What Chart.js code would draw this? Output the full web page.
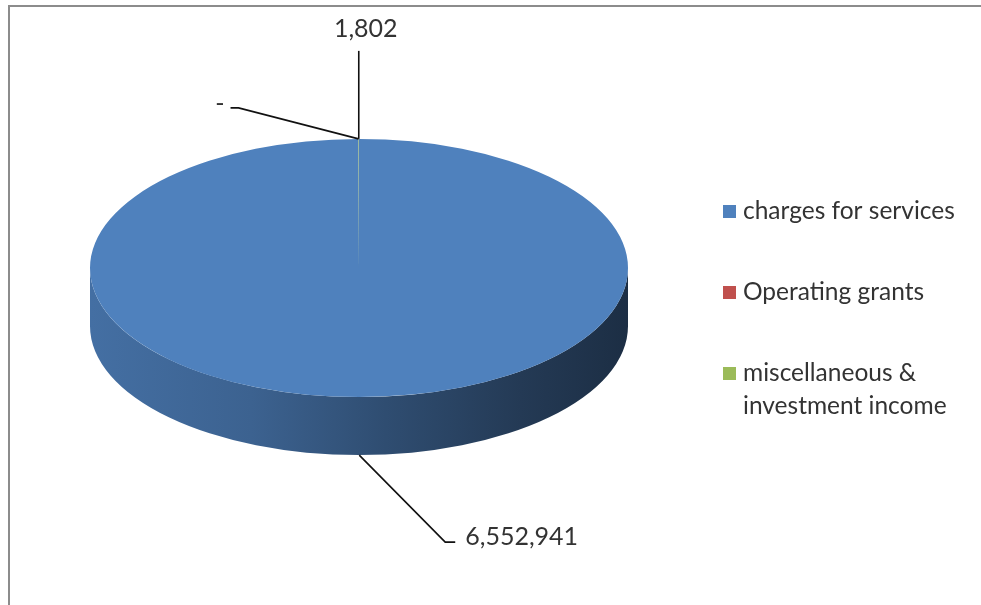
<!DOCTYPE html>
<html>
<head>
<meta charset="utf-8">
<script src="https://cdn.jsdelivr.net/npm/chart.js@4/dist/chart.umd.min.js"></script>
<style>
  html, body { margin: 0; padding: 0; background: #fff; overflow: hidden; }
  #moldura { position: absolute; left: 8px; top: 5px; width: 971px; height: 598px;
             border-top: 2px solid #8c8c8c; border-left: 2px solid #8c8c8c; }
  #grafico { position: absolute; left: 0; top: 0; }
</style>
</head>
<body>
<div id="moldura"></div>
<canvas id="grafico" width="981" height="605"></canvas>
<script>
// dados
const categorias = ['charges for services', 'Operating grants', 'miscellaneous & investment income'];
const valores = [6552941, 0, 1802];
const cores = ['#4f81bd', '#c0504d', '#9bbb59'];

// aparência do "3D"
const inclinacao = 0.48;   // achatamento vertical do disco
const espessura = 58;      // altura da lateral
const subida = 34;         // desloca o disco para cima
const fonteLegenda = '24.5px Lato, "Open Sans", sans-serif';
const fonteValor = '25px Lato, "Open Sans", sans-serif';
const corTexto = '#333';

// pontos das linhas-guia dos rótulos (relativos à âncora na borda do disco)
const guias = [
  { cotovelo: [86, 87], fim: [96, 87], texto: [106, 82], alinhar: 'left' },
  { cotovelo: [-120, -31], fim: [-128, -31], texto: [-134, -35], alinhar: 'right' },
  { cotovelo: [0, -88], fim: [0, -88], texto: [7, -110], alinhar: 'center' }
];

function escurecer(hex, f) {
  const n = parseInt(hex.slice(1), 16);
  const r = Math.round(((n >> 16) & 255) * f);
  const g = Math.round(((n >> 8) & 255) * f);
  const b = Math.round((n & 255) * f);
  return `rgb(${r},${g},${b})`;
}

function formatar(v) {
  return v === 0 ? '-' : v.toLocaleString('en-US');
}

function quebrarTexto(ctx, texto, largura) {
  const palavras = texto.split(' ');
  const linhas = [];
  let atual = '';
  palavras.forEach(p => {
    const teste = atual ? atual + ' ' + p : p;
    if (ctx.measureText(teste).width > largura && atual) {
      linhas.push(atual);
      atual = p;
    } else {
      atual = teste;
    }
  });
  if (atual) linhas.push(atual);
  return linhas;
}

const pizza3d = {
  id: 'pizza3d',
  beforeDatasetsDraw(chart) {
    const ctx = chart.ctx;
    const arcos = chart.getDatasetMeta(0).data;
    if (!arcos.length) return;
    const cx = arcos[0].x;
    const cy = arcos[0].y - subida;
    const rx = arcos[0].outerRadius;
    const ry = rx * inclinacao;

    // lateral visível (ângulos entre 0 e PI ficam na frente)
    arcos.forEach((arco, i) => {
      const grad = ctx.createLinearGradient(cx - rx, 0, cx + rx, 0);
      grad.addColorStop(0, escurecer(cores[i], 0.86));
      grad.addColorStop(0.3, escurecer(cores[i], 0.76));
      grad.addColorStop(0.55, escurecer(cores[i], 0.6));
      grad.addColorStop(0.8, escurecer(cores[i], 0.45));
      grad.addColorStop(1, escurecer(cores[i], 0.36));
      [-2 * Math.PI, 0, 2 * Math.PI].forEach(off => {
        const a = Math.max(arco.startAngle + off, 0);
        const b = Math.min(arco.endAngle + off, Math.PI);
        if (b <= a) return;
        ctx.save();
        ctx.beginPath();
        ctx.ellipse(cx, cy, rx, ry, 0, a, b);
        ctx.lineTo(cx + rx * Math.cos(b), cy + espessura + ry * Math.sin(b));
        ctx.ellipse(cx, cy + espessura, rx, ry, 0, b, a, true);
        ctx.closePath();
        ctx.fillStyle = grad;
        ctx.fill();
        ctx.restore();
      });
    });

    // achata o disco de cima
    ctx.save();
    ctx.translate(cx, cy);
    ctx.scale(1, inclinacao);
    ctx.translate(-cx, -arcos[0].y);
  },
  afterDatasetsDraw(chart) {
    const ctx = chart.ctx;
    ctx.restore();
    const arcos = chart.getDatasetMeta(0).data;
    const cx = arcos[0].x;
    const cy = arcos[0].y - subida;
    const rx = arcos[0].outerRadius;
    const ry = rx * inclinacao;

    // rótulos de valor com linhas-guia
    ctx.save();
    ctx.font = fonteValor;
    ctx.fillStyle = corTexto;
    ctx.strokeStyle = '#111';
    ctx.lineWidth = 1.6;
    ctx.textBaseline = 'middle';
    arcos.forEach((arco, i) => {
      const m = (arco.startAngle + arco.endAngle) / 2;
      const frente = Math.sin(m) > 0;
      const ax = cx + rx * Math.cos(m);
      const ay = cy + ry * Math.sin(m) + (frente ? espessura : 0);
      const g = guias[i];
      ctx.beginPath();
      ctx.moveTo(ax, ay);
      ctx.lineTo(ax + g.cotovelo[0], ay + g.cotovelo[1]);
      ctx.lineTo(ax + g.fim[0], ay + g.fim[1]);
      ctx.stroke();
      ctx.textAlign = g.alinhar;
      ctx.fillText(formatar(valores[i]), ax + g.texto[0], ay + g.texto[1]);
    });
    ctx.restore();

    // legenda à direita
    ctx.save();
    ctx.font = fonteLegenda;
    ctx.textBaseline = 'middle';
    ctx.textAlign = 'left';
    const lx = 723, tx = 743, alturaLinha = 33, espaco = 48;
    let y = 211;
    chart.data.labels.forEach((rotulo, i) => {
      const linhas = quebrarTexto(ctx, rotulo, 225);
      ctx.fillStyle = cores[i];
      ctx.fillRect(lx, y - 6, 13, 13);
      ctx.fillStyle = corTexto;
      linhas.forEach((l, k) => ctx.fillText(l, tx, y + k * alturaLinha));
      y += linhas.length * alturaLinha + espaco;
    });
    ctx.restore();
  }
};

new Chart(document.getElementById('grafico'), {
  type: 'pie',
  data: {
    labels: categorias,
    datasets: [{
      data: valores,
      backgroundColor: cores,
      borderWidth: 0
    }]
  },
  options: {
    responsive: false,
    animation: false,
    layout: { padding: { left: 90, right: 353, top: 33, bottom: 34 } },
    plugins: { legend: { display: false }, tooltip: { enabled: false } }
  },
  plugins: [pizza3d]
});
</script>
</body>
</html>
